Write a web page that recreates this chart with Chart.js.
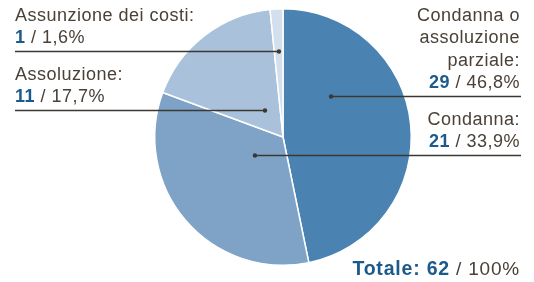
<!DOCTYPE html>
<html>
<head>
<meta charset="utf-8">
<script src="https://cdn.jsdelivr.net/npm/chart.js@4.4.0/dist/chart.umd.min.js"></script>
<style>
  body { margin: 0; background: #fff; }
  #wrap { width: 534px; height: 282px; }
</style>
</head>
<body>
<div id="wrap"><canvas id="myChart" width="534" height="282"></canvas></div>
<script>
// data
var categories = ['Condanna o assoluzione parziale', 'Condanna', 'Assoluzione', 'Assunzione dei costi'];
var counts = [29, 21, 11, 1];
var percents = ['46,8%', '33,9%', '17,7%', '1,6%'];
var labelLines = [
	['Condanna o', 'assoluzione', 'parziale:'],
	['Condanna:'],
	['Assoluzione:'],
	['Assunzione dei costi:']
];
var totalCount = 62;
var totalPercent = '100%';

var colors = ['#4a83b1', '#7fa3c7', '#a9c1da', '#d3dfed'];
var textColor = '#4a4137';
var numColor = '#1a5a8c';
var lineColor = '#3b3833';

// where each leader line starts inside its slice (angle clockwise from top, fraction of radius)
var anchors = [
	{ angle: 49.5, r: 0.493, side: 'right' },
	{ angle: 237.3, r: 0.26, side: 'right' },
	{ angle: 326.3, r: 0.253, side: 'left' },
	{ angle: 357.3, r: 0.673, side: 'left' }
];

var FONT = '18px "Liberation Sans", Arial, sans-serif';
var BOLD = 'bold 18px "Liberation Sans", Arial, sans-serif';
var FONT_TOT = '19px "Liberation Sans", Arial, sans-serif';
var BOLD_TOT = 'bold 19.5px "Liberation Sans", Arial, sans-serif';
var lineH = 22.5;

function drawRuns(ctx, runs, x, y, align) {
	var w = 0;
	runs.forEach(function(r) { ctx.font = r.font; w += ctx.measureText(r.text).width; });
	var cx = align === 'right' ? x - w : x;
	runs.forEach(function(r) {
		ctx.font = r.font;
		ctx.fillStyle = r.color;
		ctx.fillText(r.text, cx, y);
		cx += ctx.measureText(r.text).width;
	});
}

var labelPlugin = {
	id: 'leaderLabels',
	afterDraw: function(chart) {
		var ctx = chart.ctx;
		var meta = chart.getDatasetMeta(0);
		var arc0 = meta.data[0];
		var cx = arc0.x, cy = arc0.y, R = arc0.outerRadius;
		ctx.save();
		ctx.letterSpacing = '0.5px';
		ctx.textBaseline = 'alphabetic';
		ctx.textAlign = 'left';
		for (var i = 0; i < counts.length; i++) {
			var a = anchors[i];
			var th = a.angle * Math.PI / 180;
			var px = cx + a.r * R * Math.sin(th);
			var py = Math.round(cy - a.r * R * Math.cos(th)) + 0.5;
			var endX = a.side === 'right' ? 521 : 15;
			ctx.strokeStyle = lineColor;
			ctx.lineWidth = 1.3;
			ctx.beginPath();
			ctx.moveTo(px, py);
			ctx.lineTo(endX, py);
			ctx.stroke();
			ctx.fillStyle = lineColor;
			ctx.beginPath();
			ctx.arc(px, py, 2.2, 0, Math.PI * 2);
			ctx.fill();

			var tx = a.side === 'right' ? 520 : 15;
			var lines = labelLines[i];
			var baseY = py - 8.5;
			drawRuns(ctx, [
				{ text: String(counts[i]), font: BOLD, color: numColor },
				{ text: ' / ' + percents[i], font: FONT, color: textColor }
			], tx, baseY, a.side);
			for (var j = lines.length - 1; j >= 0; j--) {
				var yy = baseY - (lines.length - j) * lineH;
				drawRuns(ctx, [{ text: lines[j], font: FONT, color: textColor }], tx, yy, a.side);
			}
		}
		ctx.letterSpacing = '0.8px';
		drawRuns(ctx, [
			{ text: 'Totale: ' + totalCount, font: BOLD_TOT, color: numColor },
			{ text: ' / ' + totalPercent, font: FONT_TOT, color: textColor }
		], 520, 274.5, 'right');
		ctx.restore();
	}
};

var ctx = document.getElementById('myChart').getContext('2d');
var myChart = new Chart(ctx, {
	type: 'pie',
	data: {
		labels: categories,
		datasets: [{
			data: counts,
			backgroundColor: colors,
			borderColor: '#ffffff',
			borderWidth: 1.5
		}]
	},
	options: {
		responsive: false,
		animation: false,
		layout: { padding: { left: 154, right: 122, top: 8, bottom: 16 } },
		plugins: {
			legend: { display: false },
			tooltip: { enabled: false }
		}
	},
	plugins: [labelPlugin]
});
</script>
</body>
</html>
